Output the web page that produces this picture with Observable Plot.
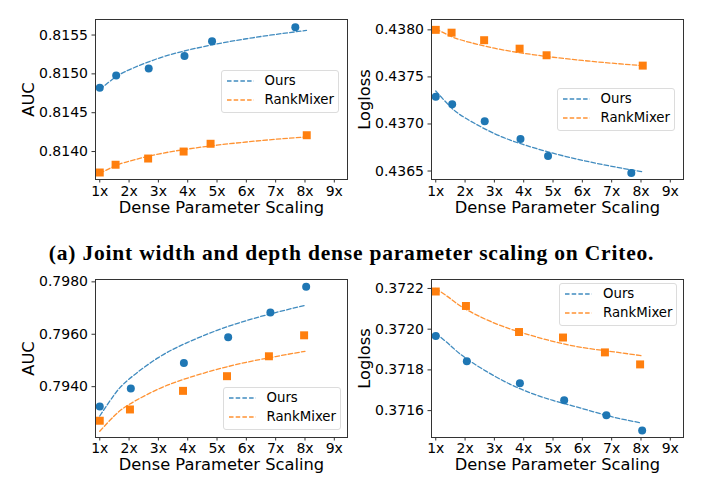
<!DOCTYPE html>
<html>
<head>
<meta charset="utf-8">
<script src="https://cdn.jsdelivr.net/npm/d3@7"></script>
<script src="https://cdn.jsdelivr.net/npm/@observablehq/plot@0.6"></script>
<style>
  body { margin: 0; background: #fff; }
  #wrap { position: relative; width: 703px; height: 496px; background: #fff; overflow: hidden; }
  .panel { position: absolute; }
  .legend { position: absolute; background: rgba(255,255,255,0.85); border: 1px solid #dcdcdc; border-radius: 3px; box-sizing: border-box;
            font-family: "DejaVu Sans", sans-serif; font-size: 13.3px; color: #000; }
  .legend .row { position: absolute; left: 0; height: 16px; }
  .legend svg { position: absolute; left: 5px; top: 0; }
  .legend span { position: absolute; left: 43px; top: 0; white-space: nowrap; line-height: 16px; }
  #caption { position: absolute; left: 0; width: 703px; top: 241px; text-align: center; white-space: nowrap;
             font-family: "Liberation Serif", "DejaVu Serif", serif; font-weight: bold; font-size: 21.5px; letter-spacing: 0.8px; color: #000; }
</style>
</head>
<body>
<div id="wrap"></div>
<script>
// ---- data ----
const seriesNames = ["Ours", "RankMixer"];
const seriesColors = ["#1f77b4", "#ff7f0e"];
const xTicks = [1, 2, 3, 4, 5, 6, 7, 8, 9];
const xLabel = "Dense Parameter Scaling";
const caption = "(a) Joint width and depth dense parameter scaling on Criteo.";

// top row (Criteo)
const topOursX = [1, 1.56, 2.67, 3.89, 4.83, 7.67];
const topRankX = [1, 1.54, 2.65, 3.86, 4.78, 8.06];
const topFitX = [1, 1.5, 2, 3, 4, 5, 6, 7, 8.05];

const aucTopOurs = [0.81482, 0.81498, 0.81507, 0.81523, 0.81542, 0.81560];
const aucTopRank = [0.81373, 0.81383, 0.81391, 0.81400, 0.81410, 0.81421];
const aucTopOursFit = [0.814800, 0.814948, 0.815052, 0.815200, 0.815305, 0.815386, 0.815452, 0.815508, 0.815559];
const aucTopRankFit = [0.813720, 0.813811, 0.813876, 0.813967, 0.814032, 0.814082, 0.814123, 0.814158, 0.814189];
const aucTopTicks = [0.8140, 0.8145, 0.8150, 0.8155];

const llTopOurs = [0.43729, 0.43721, 0.43703, 0.43684, 0.43666, 0.43648];
const llTopRank = [0.43800, 0.43797, 0.43789, 0.43780, 0.43773, 0.43762];
const llTopOursFit = [0.437350, 0.437183, 0.437065, 0.436898, 0.436780, 0.436689, 0.436614, 0.436550, 0.436493];
const llTopRankFit = [0.438010, 0.437934, 0.437880, 0.437805, 0.437751, 0.437709, 0.437675, 0.437646, 0.437620];
const llTopTicks = [0.4365, 0.4370, 0.4375, 0.4380];

// bottom row
const botOursX = [1, 2.06, 3.87, 5.38, 6.82, 8.04];
const botRankX = [1, 2.03, 3.84, 5.34, 6.77, 7.97];
const botFitX = [1, 1.5, 2, 3, 4, 5, 6, 7, 8];

const aucBotOurs = [0.79324, 0.79393, 0.79490, 0.79589, 0.79683, 0.79781];
const aucBotRank = [0.79270, 0.79313, 0.79384, 0.79440, 0.79516, 0.79596];
const aucBotOursFit = [0.79288, 0.79370, 0.79429, 0.79511, 0.79569, 0.79615, 0.79652, 0.79683, 0.79710];
const aucBotRankFit = [0.79230, 0.79289, 0.79332, 0.79391, 0.79433, 0.79466, 0.79493, 0.79515, 0.79535];
const aucBotTicks = [0.7940, 0.7960, 0.7980];

const llBotOurs = [0.371966, 0.371842, 0.371734, 0.371651, 0.371577, 0.371502];
const llBotRank = [0.372185, 0.372114, 0.371986, 0.371959, 0.371886, 0.371827];
const llBotOursFit = [0.37198, 0.37192, 0.37186, 0.37177, 0.37170, 0.37165, 0.37161, 0.37157, 0.37154];
const llBotRankFit = [0.37220, 0.37215, 0.37210, 0.37203, 0.37198, 0.37194, 0.37191, 0.37189, 0.37187];
const llBotTicks = [0.3716, 0.3718, 0.3720, 0.3722];

// ---- drawing ----
const wrap = document.getElementById("wrap");

function toRows(xs, ys, name) { return xs.map((x, i) => ({x, y: ys[i], s: name})); }

function panel(cfg) {
  const pts = [...toRows(cfg.xO, cfg.ours, seriesNames[0]), ...toRows(cfg.xR, cfg.rank, seriesNames[1])];
  const fits = [...toRows(cfg.xFit, cfg.oursFit, seriesNames[0]), ...toRows(cfg.xFit, cfg.rankFit, seriesNames[1])];
  const chart = Plot.plot({
    width: 352, height: cfg.height,
    marginLeft: 95, marginRight: 5, marginTop: cfg.mt, marginBottom: cfg.mb,
    style: {fontFamily: "DejaVu Sans", fontSize: "14px", background: "transparent", color: "#000", overflow: "visible"},
    x: {domain: [0.855, 9.45]},
    y: {domain: cfg.yDomain},
    color: {domain: seriesNames, range: seriesColors},
    symbol: {domain: seriesNames, range: ["circle", "square"]},
    marks: [
      Plot.axisX({ticks: xTicks, tickFormat: d => d + "x", tickSize: 3.5, tickPadding: cfg.tp, label: null, stroke: "#333"}),
      Plot.axisY({ticks: cfg.yTicks, tickFormat: d3.format(".4f"), tickSize: 3.5, tickPadding: 4, label: null, stroke: "#333"}),
      Plot.dot(pts.filter(d => d.s === seriesNames[0]), {x: "x", y: "y", fill: "s", r: 4, symbol: "s"}),
      Plot.dot(pts.filter(d => d.s === seriesNames[1]), {x: "x", y: "y", fill: "s", r: 4.5, symbol: "s"}),
      Plot.line(fits, {x: "x", y: "y", z: "s", stroke: "s", strokeWidth: 1.3, strokeOpacity: 0.85, strokeDasharray: "4.5,2.2", curve: "natural"}),
      Plot.frame({stroke: "#333", strokeWidth: 1}),
      Plot.text([xLabel], {frameAnchor: "bottom", dy: cfg.xlDy, fontSize: 16.3, textAnchor: "middle"}),
      Plot.text([cfg.ylabel], {frameAnchor: "left", dx: -67, rotate: -90, fontSize: 16.3, textAnchor: "middle"})
    ]
  });
  chart.classList.add("panel");
  chart.style.left = cfg.left + "px";
  chart.style.top = cfg.top + "px";
  wrap.appendChild(chart);

  // legend
  const lg = document.createElement("div");
  lg.className = "legend";
  Object.assign(lg.style, {left: cfg.lg[0] + "px", top: cfg.lg[1] + "px", width: "118px", height: "43px"});
  seriesNames.forEach((name, i) => {
    const cy = i === 0 ? 11.4 : 30;
    const row = document.createElement("div");
    row.className = "row";
    row.style.top = (cy - 8 - 1) + "px";
    row.style.width = "118px";
    row.innerHTML = `<svg width="28" height="16"><line x1="0" x2="27" y1="8" y2="8" stroke="${seriesColors[i]}" stroke-width="1.3" stroke-opacity="0.85" stroke-dasharray="4.5,2.2"/></svg><span>${name}</span>`;
    lg.appendChild(row);
  });
  wrap.appendChild(lg);
}

panel({left: 0, top: 0, height: 225, mt: 19, mb: 46, tp: 3, xlDy: 33, xO: topOursX, xR: topRankX, xFit: topFitX,
  ours: aucTopOurs, rank: aucTopRank, oursFit: aucTopOursFit, rankFit: aucTopRankFit,
  yDomain: [0.81364, 0.81570], yTicks: aucTopTicks, ylabel: "AUC", lg: [220.5, 69.5]});
panel({left: 336, top: 0, height: 225, mt: 19, mb: 46, tp: 3, xlDy: 33, xO: topOursX, xR: topRankX, xFit: topFitX,
  ours: llTopOurs, rank: llTopRank, oursFit: llTopOursFit, rankFit: llTopRankFit,
  yDomain: [0.43641, 0.43811], yTicks: llTopTicks, ylabel: "Logloss", lg: [556.5, 88]});
panel({left: 0, top: 260, height: 225, mt: 19, mb: 48, tp: 2, xlDy: 32.5, xO: botOursX, xR: botRankX, xFit: botFitX,
  ours: aucBotOurs, rank: aucBotRank, oursFit: aucBotOursFit, rankFit: aucBotRankFit,
  yDomain: [0.79206, 0.79809], yTicks: aucBotTicks, ylabel: "AUC", lg: [222.5, 387]});
panel({left: 336, top: 260, height: 225, mt: 19, mb: 48, tp: 2, xlDy: 32.5, xO: botOursX, xR: botRankX, xFit: botFitX,
  ours: llBotOurs, rank: llBotRank, oursFit: llBotOursFit, rankFit: llBotRankFit,
  yDomain: [0.371468, 0.372244], yTicks: llBotTicks, ylabel: "Logloss", lg: [559, 283]});

const cap = document.createElement("div");
cap.id = "caption";
cap.textContent = caption;
wrap.appendChild(cap);
</script>
</body>
</html>
